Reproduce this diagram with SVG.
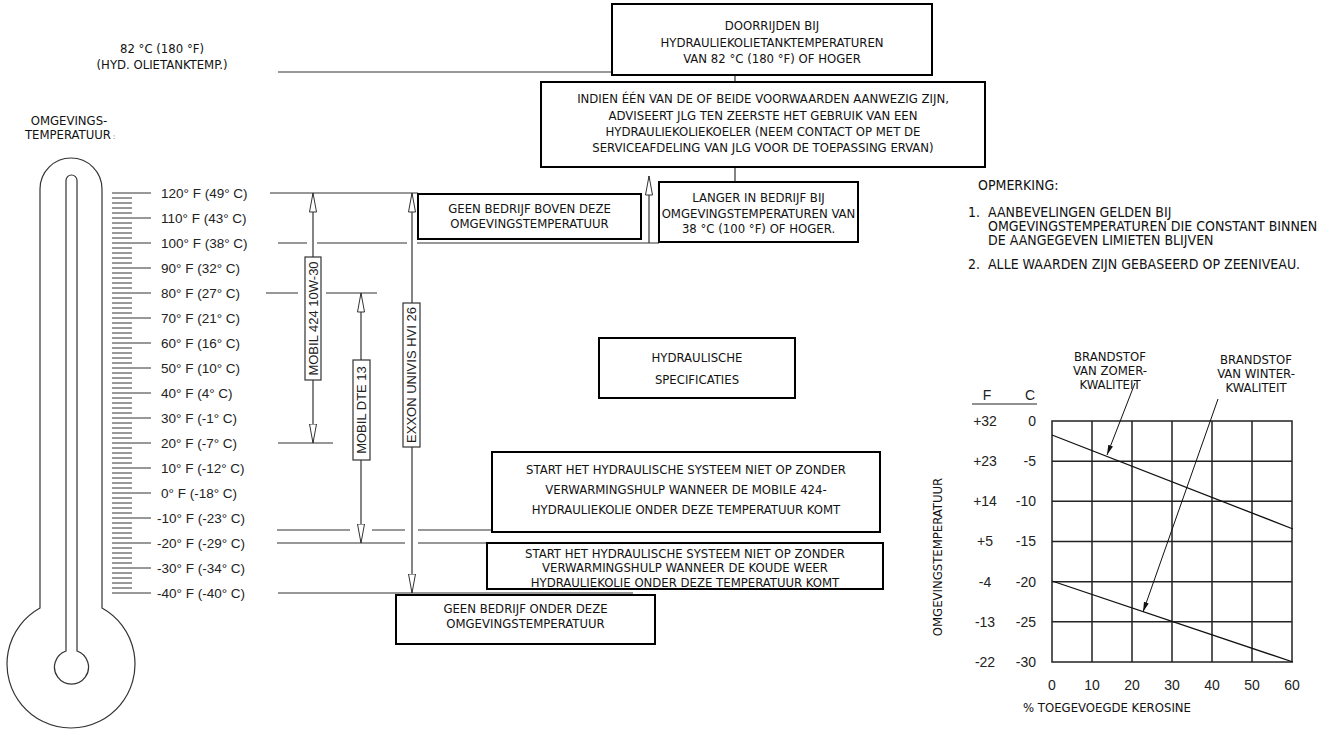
<svg xmlns="http://www.w3.org/2000/svg" width="1323" height="732" viewBox="0 0 1323 732">
<style>
.ln{stroke:#333;stroke-width:1.2;fill:none}
.box{fill:#fff;stroke:#000;stroke-width:2}
.lbl{fill:#fff;stroke:#333;stroke-width:1.2}
.t{font-family:"DejaVu Sans Condensed","DejaVu Sans",sans-serif;font-stretch:condensed;font-size:13px;fill:#111;text-anchor:middle}
.tl{font-family:"DejaVu Sans Condensed","DejaVu Sans",sans-serif;font-stretch:condensed;font-size:14px;fill:#111}
.s{font-family:"Liberation Sans",Arial,sans-serif;font-size:13.5px;fill:#222}
.sm{font-family:"Liberation Sans",Arial,sans-serif;font-size:13px;fill:#222;text-anchor:middle}
.cn{font-family:"Liberation Sans",Arial,sans-serif;font-size:14px;fill:#222;text-anchor:middle}
.ce{font-family:"Liberation Sans",Arial,sans-serif;font-size:14px;fill:#222;text-anchor:end}
.grid{stroke:#222;stroke-width:1.5;fill:none}
.arr{marker-start:url(#oa);marker-end:url(#oa)}
</style>
<defs>
<marker id="oa" markerUnits="userSpaceOnUse" viewBox="0 0 20 8" refX="19.5" refY="4" markerWidth="20" markerHeight="8" orient="auto-start-reverse">
<path d="M0.5 0.5L19.5 4L0.5 7.5Z" fill="#fff" stroke="#333" stroke-width="1"/>
</marker>
<marker id="fa" markerUnits="userSpaceOnUse" viewBox="0 0 10 6" refX="10" refY="3" markerWidth="10" markerHeight="6" orient="auto">
<path d="M0 0.5L10 3L0 5.5Z" fill="#111"/>
</marker>
</defs>
<rect width="1323" height="732" fill="#fff"/>

<g id="thermometer">
<path class="ln" d="M40 608L40 189A31 31 0 0 1 102 189L102 608A64 64 0 1 1 40 608Z"/>
<path class="ln" d="M66 651L66 180.5A5.5 5.5 0 0 1 77 180.5L77 651A17 17 0 1 1 66 651Z"/>
<path stroke="#333" stroke-width="1" fill="none" d="M112 193H151M112 218H151M112 243H151M112 268H151M112 293H151M112 318H151M112 343H151M112 368H151M112 393H151M112 418H151M112 443H151M112 468H151M112 493H151M112 518H151M112 543H151M112 568H151M112 593H151"/>
<path stroke="#333" stroke-width="1" fill="none" d="M112 198H132M112 203H132M112 208H132M112 213H132M112 223H132M112 228H132M112 233H132M112 238H132M112 248H132M112 253H132M112 258H132M112 263H132M112 273H132M112 278H132M112 283H132M112 288H132M112 298H132M112 303H132M112 308H132M112 313H132M112 323H132M112 328H132M112 333H132M112 338H132M112 348H132M112 353H132M112 358H132M112 363H132M112 373H132M112 378H132M112 383H132M112 388H132M112 398H132M112 403H132M112 408H132M112 413H132M112 423H132M112 428H132M112 433H132M112 438H132M112 448H132M112 453H132M112 458H132M112 463H132M112 473H132M112 478H132M112 483H132M112 488H132M112 498H132M112 503H132M112 508H132M112 513H132M112 523H132M112 528H132M112 533H132M112 538H132M112 548H132M112 553H132M112 558H132M112 563H132M112 573H132M112 578H132M112 583H132M112 588H132"/>
<text class="s" x="161" y="198">120° F (49° C)</text>
<text class="s" x="161" y="223">110° F (43° C)</text>
<text class="s" x="161" y="248">100° F (38° C)</text>
<text class="s" x="161" y="273">90° F (32° C)</text>
<text class="s" x="161" y="298">80° F (27° C)</text>
<text class="s" x="161" y="323">70° F (21° C)</text>
<text class="s" x="161" y="348">60° F (16° C)</text>
<text class="s" x="161" y="373">50° F (10° C)</text>
<text class="s" x="161" y="398">40° F (4° C)</text>
<text class="s" x="161" y="423">30° F (-1° C)</text>
<text class="s" x="161" y="448">20° F (-7° C)</text>
<text class="s" x="161" y="473">10° F (-12° C)</text>
<text class="s" x="161" y="498">0° F (-18° C)</text>
<text class="s" x="157" y="523">-10° F (-23° C)</text>
<text class="s" x="157" y="548">-20° F (-29° C)</text>
<text class="s" x="157" y="573">-30° F (-34° C)</text>
<text class="s" x="157" y="598">-40° F (-40° C)</text>
</g>

<g id="title-ambient">
<text class="t" x="69" y="125" font-size="13.5">OMGEVINGS-</text>
<text class="t" x="70" y="139" font-size="13.5">TEMPERATUUR<tspan font-size="7"> :</tspan></text>
</g>
<g id="title-tank">
<text class="t" x="162" y="53" font-size="13">82 °C (180 °F)</text>
<text class="t" x="162" y="69" font-size="13.5">(HYD. OLIETANKTEMP.)</text>
</g>

<g id="connectors">
<path class="ln" d="M278 72H612M735 75V82M735 167V182"/>
<path class="ln" d="M270 193H418"/>
<path class="ln" d="M278 243H307M317 243H407M417 243H659"/>
<path class="ln" d="M266 293H298M326 293H377"/>
<path class="ln" d="M278 443H333"/>
<path class="ln" d="M277 530H350M372 530H405M418 530H492"/>
<path class="ln" d="M277 543H405M418 543H487"/>
<path class="ln" d="M278 593H633"/>
<path class="ln arr" d="M313 193V443"/>
<path class="ln arr" d="M361 293V543"/>
<path class="ln arr" d="M412 193V593"/>
<path class="ln" marker-end="url(#oa)" d="M649 243V176"/>
</g>

<g id="label-mobil424">
<rect class="lbl" x="305" y="257" width="16" height="123"/>
<text class="sm" transform="translate(317.6 318.5) rotate(-90)">MOBIL 424 10W-30</text>
</g>
<g id="label-mobildte13">
<rect class="lbl" x="353" y="360" width="17" height="100"/>
<text class="sm" transform="translate(366 410) rotate(-90)">MOBIL DTE 13</text>
</g>
<g id="label-exxon">
<rect class="lbl" x="403" y="303" width="17" height="144"/>
<text class="sm" transform="translate(416 375) rotate(-90)">EXXON UNIVIS HVI 26</text>
</g>

<g id="box-doorrijden">
<rect class="box" x="612" y="4" width="320" height="71"/>
<text class="t" x="772" y="30">DOORRIJDEN BIJ</text>
<text class="t" x="772" y="47">HYDRAULIEKOLIETANKTEMPERATUREN</text>
<text class="t" x="772" y="63">VAN 82 °C (180 °F) OF HOGER</text>
</g>
<g id="box-indien">
<rect class="box" x="541" y="82" width="444" height="85"/>
<text class="t" x="763" y="103" font-size="12.5">INDIEN ÉÉN VAN DE OF BEIDE VOORWAARDEN AANWEZIG ZIJN,</text>
<text class="t" x="763" y="120" font-size="12.5">ADVISEERT JLG TEN ZEERSTE HET GEBRUIK VAN EEN</text>
<text class="t" x="763" y="136" font-size="12.5">HYDRAULIEKOLIEKOELER (NEEM CONTACT OP MET DE</text>
<text class="t" x="763" y="152" font-size="12.5">SERVICEAFDELING VAN JLG VOOR DE TOEPASSING ERVAN)</text>
</g>
<g id="box-geen-boven">
<rect class="box" x="418" y="194" width="223" height="45"/>
<text class="t" x="529.5" y="213">GEEN BEDRIJF BOVEN DEZE</text>
<text class="t" x="529.5" y="228">OMGEVINGSTEMPERATUUR</text>
</g>
<g id="box-langer">
<rect class="box" x="659" y="182" width="199" height="60"/>
<text class="t" x="758.5" y="202" font-size="12">LANGER IN BEDRIJF BIJ</text>
<text class="t" x="758.5" y="218" font-size="12">OMGEVINGSTEMPERATUREN VAN</text>
<text class="t" x="758.5" y="233" font-size="12">38 °C (100 °F) OF HOGER.</text>
</g>
<g id="box-hydraulische">
<rect class="box" x="599" y="338" width="196" height="60"/>
<text class="t" x="697" y="362" font-size="18">HYDRAULISCHE</text>
<text class="t" x="697" y="384" font-size="18">SPECIFICATIES</text>
</g>
<g id="box-start-mobile">
<rect class="box" x="492" y="452" width="388" height="80"/>
<text class="t" x="686" y="474">START HET HYDRAULISCHE SYSTEEM NIET OP ZONDER</text>
<text class="t" x="686" y="494">VERWARMINGSHULP WANNEER DE MOBILE 424-</text>
<text class="t" x="686" y="514">HYDRAULIEKOLIE ONDER DEZE TEMPERATUUR KOMT</text>
</g>
<g id="box-start-koude">
<rect class="box" x="487" y="543" width="396" height="46"/>
<text class="t" x="685" y="558">START HET HYDRAULISCHE SYSTEEM NIET OP ZONDER</text>
<text class="t" x="685" y="572">VERWARMINGSHULP WANNEER DE KOUDE WEER</text>
<text class="t" x="685" y="587">HYDRAULIEKOLIE ONDER DEZE TEMPERATUUR KOMT</text>
</g>
<g id="box-geen-onder">
<rect class="box" x="396" y="595" width="259" height="49"/>
<text class="t" x="525.5" y="613">GEEN BEDRIJF ONDER DEZE</text>
<text class="t" x="525.5" y="628">OMGEVINGSTEMPERATUUR</text>
</g>

<g id="note">
<text class="tl" x="978" y="190">OPMERKING:</text>
<text class="tl" x="968" y="217">1.</text>
<text class="tl" x="988" y="217">AANBEVELINGEN GELDEN BIJ</text>
<text class="tl" x="988" y="231">OMGEVINGSTEMPERATUREN DIE CONSTANT BINNEN</text>
<text class="tl" x="988" y="245">DE AANGEGEVEN LIMIETEN BLIJVEN</text>
<text class="tl" x="968" y="269">2.</text>
<text class="tl" x="988" y="269">ALLE WAARDEN ZIJN GEBASEERD OP ZEENIVEAU.</text>
</g>

<g id="chart">
<rect class="grid" x="1052" y="421" width="240" height="241"/>
<path class="grid" d="M1092 421V662M1132 421V662M1172 421V662M1212 421V662M1252 421V662M1052 461.2H1292M1052 501.3H1292M1052 541.5H1292M1052 581.7H1292M1052 621.8H1292"/>
<path stroke="#111" stroke-width="1.3" fill="none" d="M1052 435L1293 529M1052 581L1293 662"/>
<text class="cn" x="987" y="400">F</text>
<text class="cn" x="1030" y="400">C</text>
<path stroke="#222" stroke-width="1" d="M972 404H1037"/>
<text class="cn" x="985" y="426">+32</text>
<text class="cn" x="985" y="466">+23</text>
<text class="cn" x="985" y="506">+14</text>
<text class="cn" x="985" y="546">+5</text>
<text class="cn" x="985" y="587">-4</text>
<text class="cn" x="985" y="627">-13</text>
<text class="cn" x="985" y="667">-22</text>
<text class="ce" x="1036" y="426">0</text>
<text class="ce" x="1036" y="466">-5</text>
<text class="ce" x="1036" y="506">-10</text>
<text class="ce" x="1036" y="546">-15</text>
<text class="ce" x="1036" y="587">-20</text>
<text class="ce" x="1036" y="627">-25</text>
<text class="ce" x="1036" y="667">-30</text>
<text class="cn" x="1052" y="690">0</text>
<text class="cn" x="1092" y="690">10</text>
<text class="cn" x="1132" y="690">20</text>
<text class="cn" x="1172" y="690">30</text>
<text class="cn" x="1212" y="690">40</text>
<text class="cn" x="1252" y="690">50</text>
<text class="cn" x="1292" y="690">60</text>
<text class="t" x="1107" y="712" font-size="13.3">% TOEGEVOEGDE KEROSINE</text>
<text class="t" transform="translate(942 557) rotate(-90)" font-size="13.5">OMGEVINGSTEMPERATUUR</text>
</g>
<g id="label-summer">
<text class="t" x="1110" y="361" font-size="14">BRANDSTOF</text>
<text class="t" x="1110" y="375" font-size="14">VAN ZOMER-</text>
<text class="t" x="1110" y="389" font-size="14">KWALITEIT</text>
<path stroke="#111" stroke-width="1" fill="none" marker-end="url(#fa)" d="M1135 383L1107 455"/>
</g>
<g id="label-winter">
<text class="t" x="1256" y="364" font-size="14">BRANDSTOF</text>
<text class="t" x="1256" y="378" font-size="14">VAN WINTER-</text>
<text class="t" x="1256" y="392" font-size="14">KWALITEIT</text>
<path stroke="#111" stroke-width="1" fill="none" marker-end="url(#fa)" d="M1218 399L1143 612"/>
</g>
</svg>
